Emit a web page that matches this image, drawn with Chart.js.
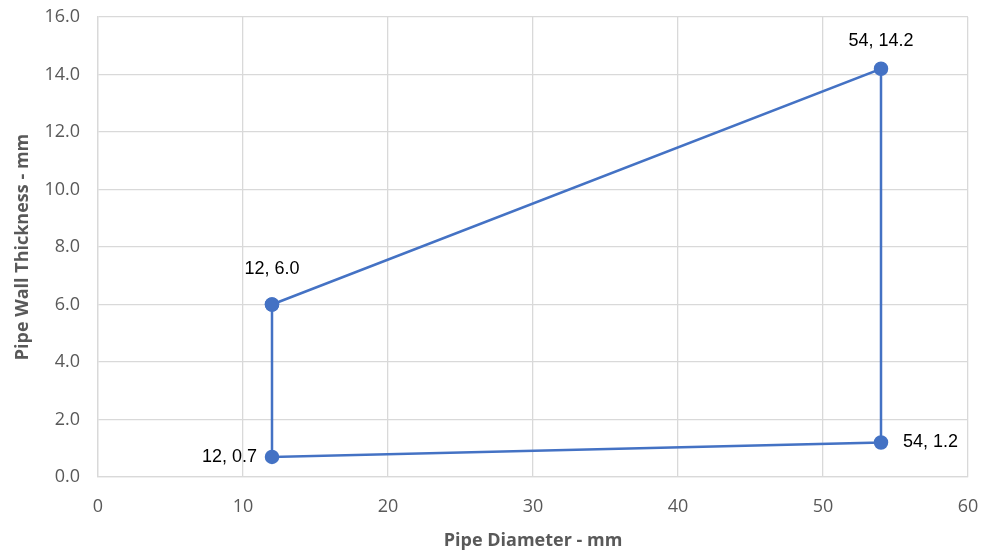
<!DOCTYPE html>
<html>
<head>
<meta charset="utf-8">
<script src="https://cdn.jsdelivr.net/npm/chart.js@4.4.0/dist/chart.umd.min.js"></script>
<style>
  html, body { margin: 0; padding: 0; background: #fff; }
  #wrap { width: 986px; height: 555px; }
</style>
</head>
<body>
<div id="wrap"><canvas id="myChart"></canvas></div>
<script>
// Pipe envelope: corners of the diameter / wall thickness range
const diameters = [12, 54, 54, 12, 12];
const thickness = [6.0, 14.2, 1.2, 0.7, 6.0];
const pointLabels = ['12, 6.0', '54, 14.2', '54, 1.2', '12, 0.7'];

const xTitle = 'Pipe Diameter - mm';
const yTitle = 'Pipe Wall Thickness - mm';

const points = diameters.map((d, i) => ({ x: d, y: thickness[i] }));

// draw the "x, y" labels next to each corner point
const labelPlugin = {
  id: 'cornerLabels',
  afterDatasetsDraw(chart) {
    const ctx = chart.ctx;
    const meta = chart.getDatasetMeta(0);
    const place = [
      { dx: 0, dy: -35, align: 'center' },
      { dx: 0, dy: -28, align: 'center' },
      { dx: 22, dy: 0, align: 'left' },
      { dx: -15, dy: 0, align: 'right' }
    ];
    ctx.save();
    ctx.font = '18px "Liberation Sans", Arial, sans-serif';
    ctx.fillStyle = '#000';
    ctx.textBaseline = 'middle';
    pointLabels.forEach((txt, i) => {
      const el = meta.data[i];
      const p = place[i];
      ctx.textAlign = p.align;
      ctx.fillText(txt, el.x + p.dx, el.y + p.dy);
    });
    ctx.restore();
  }
};

const tickFont = { family: '"Open Sans", "Noto Sans", sans-serif', size: 18 };
const titleFont = { family: '"Open Sans", "Noto Sans", sans-serif', size: 18, weight: 'bold' };

const config = {
  type: 'scatter',
  data: {
    datasets: [{
      data: points,
      showLine: true,
      borderColor: '#4472C4',
      backgroundColor: '#4472C4',
      borderWidth: 2.5,
      pointRadius: 6,
      pointHoverRadius: 6
    }]
  },
  options: {
    responsive: true,
    maintainAspectRatio: false,
    animation: false,
    layout: { padding: { top: 17, right: 18, left: 12, bottom: 0 } },
    plugins: {
      legend: { display: false },
      tooltip: { enabled: false }
    },
    scales: {
      x: {
        type: 'linear',
        min: 0, max: 60,
        // fixed axis height, and keep tick padding out of the side margins
        afterFit: s => { s.height = 78; s.paddingLeft = 10; s.paddingRight = 10; },
        ticks: { stepSize: 10, color: '#595959', font: tickFont, padding: 19 },
        grid: { color: '#d9d9d9', lineWidth: 1.3, drawTicks: false },
        border: { color: '#d9d9d9', width: 1.3 },
        title: { display: true, text: xTitle, color: '#595959', font: titleFont, padding: { top: 0, bottom: 3 } }
      },
      y: {
        min: 0, max: 16,
        afterFit: s => { s.width = 86; s.paddingTop = 11; s.paddingBottom = 11; },
        ticks: { stepSize: 2, color: '#595959', font: tickFont, padding: 18,
                 callback: v => v.toFixed(1) },
        grid: { color: '#d9d9d9', lineWidth: 1.3, drawTicks: false },
        border: { color: '#d9d9d9', width: 1.3 },
        title: { display: true, text: yTitle, color: '#595959', font: titleFont, padding: { top: 0, bottom: 8 } }
      }
    }
  },
  plugins: [labelPlugin]
};

const ctx = document.getElementById('myChart').getContext('2d');
const myChart = new Chart(ctx, config);
</script>
</body>
</html>
